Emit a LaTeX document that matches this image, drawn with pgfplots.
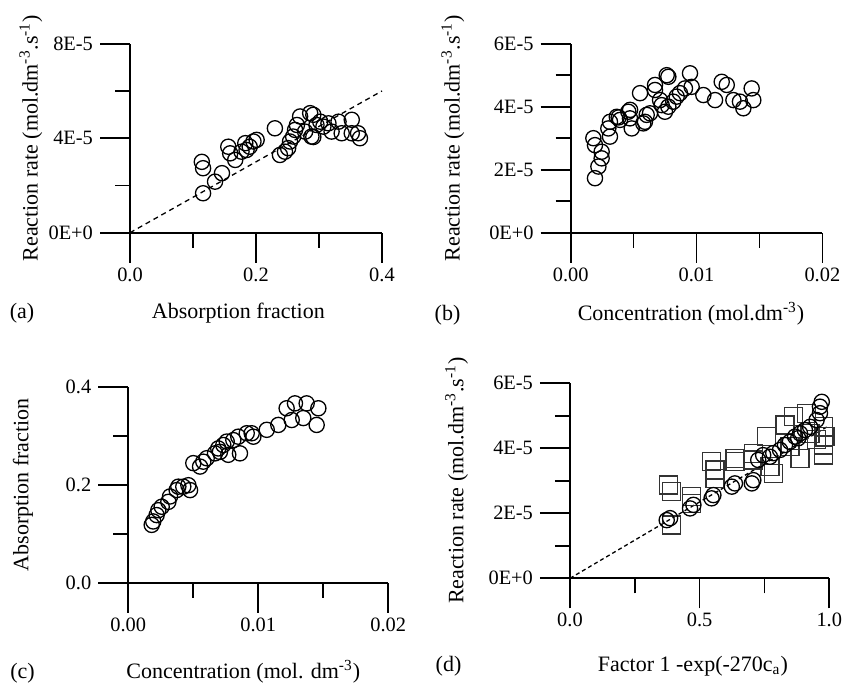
\documentclass[border=0pt]{standalone}
\usepackage{fontspec}
\setmainfont{Liberation Serif}
\usepackage{pgfplots}
\pgfplotsset{compat=1.18}

\pgfplotsset{
  panel/.style={
    scale only axis, axis lines=left, axis line style={-, line width=0.85pt},
    tick align=outside, major tick length=15pt, minor tick length=7.5pt,
    every tick/.style={black, line width=0.85pt},
    minor tick num=1, xmin=0, ymin=0, clip=false,
    scaled x ticks=false, scaled y ticks=false,
    xticklabel style={font=\fontsize{10.2}{12}\selectfont, yshift=1pt},
    yticklabel style={font=\fontsize{10.2}{12}\selectfont},
    every axis y label/.style={rotate=90, anchor=center, font=\fontsize{11}{13}\selectfont},
    every axis x label/.style={anchor=center, font=\fontsize{11}{13}\selectfont},
    anchor=south west,
  },
  circ/.style={only marks, mark=o, mark size=3.8pt, mark options={line width=0.65pt}, black},
  sq/.style={only marks, mark=square, mark size=4.5pt, mark options={line width=0.65pt}, black!80},
}

\begin{document}
\begin{tikzpicture}
\useasboundingbox (0,0) rectangle (421.5pt,-342.5pt);

% (a)
\begin{axis}[panel, at={(65pt,-116.35pt)}, width=126pt, height=94.5pt,
  xmax=0.4, ymax=8e-5,
  xtick={0,0.2,0.4}, xticklabels={0.0,0.2,0.4},
  ytick={0,4e-5,8e-5}, yticklabels={0E+0,4E-5,8E-5},
  xlabel={Absorption fraction}, xlabel style={at={(axis description cs:0.43,-0.425)}},
  ylabel={Reaction rate (mol.dm\textsuperscript{-3}.s\textsuperscript{-1})},
  ylabel style={at={(axis description cs:-0.393,0.5)}}]
\addplot[black, line width=0.65pt, dash pattern=on 2.5pt off 2pt] coordinates {(0,0) (0.4,6e-5)};
\addplot[circ] coordinates {
(0.116,1.67e-5) (0.114,3.00e-5) (0.116,2.73e-5) (0.135,2.16e-5) (0.146,2.52e-5)
(0.156,3.64e-5) (0.159,3.36e-5) (0.167,3.08e-5) (0.177,3.43e-5) (0.183,3.79e-5)
(0.185,3.50e-5) (0.190,3.64e-5) (0.196,3.86e-5) (0.201,3.93e-5) (0.230,4.42e-5)
(0.238,3.29e-5) (0.246,3.43e-5) (0.251,3.58e-5) (0.254,3.86e-5) (0.259,4.07e-5)
(0.262,4.35e-5) (0.265,4.56e-5) (0.270,4.92e-5) (0.278,4.28e-5) (0.286,5.06e-5)
(0.291,4.99e-5) (0.288,4.07e-5) (0.296,4.56e-5) (0.302,4.70e-5) (0.307,4.49e-5)
(0.315,4.63e-5) (0.320,4.28e-5) (0.331,4.70e-5) (0.336,4.21e-5) (0.352,4.78e-5)
(0.352,4.21e-5) (0.362,4.21e-5) (0.365,4.00e-5) (0.291,4.05e-5)
};
\end{axis}

% (b)
\begin{axis}[panel, at={(285.35pt,-116.35pt)}, width=125.85pt, height=94.5pt,
  xmax=0.02, ymax=6e-5,
  xtick={0,0.01,0.02}, xticklabels={0.00,0.01,0.02},
  ytick={0,2e-5,4e-5,6e-5}, yticklabels={0E+0,2E-5,4E-5,6E-5},
  xlabel={Concentration (mol.dm\textsuperscript{-3})}, xlabel style={at={(axis description cs:0.478,-0.43)}},
  ylabel={Reaction rate (mol.dm\textsuperscript{-3}.s\textsuperscript{-1})},
  ylabel style={at={(axis description cs:-0.468,0.5)}}]
\addplot[circ] coordinates {
(0.00193,1.73e-5) (0.00220,2.10e-5) (0.00180,3.00e-5) (0.00193,2.78e-5) (0.00246,2.57e-5)
(0.00246,2.36e-5) (0.00312,3.05e-5) (0.00299,3.31e-5) (0.00312,3.52e-5) (0.00366,3.68e-5)
(0.00392,3.58e-5) (0.00458,3.84e-5) (0.00471,3.63e-5) (0.00485,3.31e-5) (0.00577,3.47e-5)
(0.00590,3.52e-5) (0.00551,4.43e-5) (0.00630,3.79e-5) (0.00670,4.53e-5) (0.00670,4.69e-5)
(0.00710,4.21e-5) (0.00723,4.05e-5) (0.00763,5.00e-5) (0.00776,4.95e-5) (0.00749,3.84e-5)
(0.00776,4.00e-5) (0.00815,4.16e-5) (0.00842,4.32e-5) (0.00868,4.43e-5) (0.00908,4.58e-5)
(0.00948,5.06e-5) (0.00961,4.63e-5) (0.01054,4.37e-5) (0.01147,4.21e-5) (0.01200,4.79e-5)
(0.01240,4.69e-5) (0.01293,4.21e-5) (0.01345,4.16e-5) (0.01372,3.95e-5) (0.01438,4.58e-5)
(0.01451,4.21e-5) (0.00381,3.66e-5) (0.00472,3.90e-5) (0.00604,3.74e-5)
};
\end{axis}

% (c)
\begin{axis}[panel, at={(64.15pt,-291.35pt)}, width=130pt, height=98pt,
  xmax=0.02, ymax=0.4,
  xtick={0,0.01,0.02}, xticklabels={0.00,0.01,0.02},
  ytick={0,0.2,0.4}, yticklabels={0.0,0.2,0.4},
  xlabel={Concentration (mol. dm\textsuperscript{-3})}, xlabel style={at={(axis description cs:0.442,-0.456)}},
  ylabel={Absorption fraction},
  ylabel style={at={(axis description cs:-0.405,0.5)}}]
\addplot[circ] coordinates {
(0.00180,0.118) (0.00192,0.125) (0.00218,0.138) (0.00231,0.148) (0.00257,0.155)
(0.00308,0.165) (0.00321,0.176) (0.00372,0.189) (0.00385,0.196) (0.00423,0.196)
(0.00462,0.199) (0.00475,0.189) (0.00500,0.244) (0.00552,0.237) (0.00577,0.247)
(0.00603,0.254) (0.00667,0.264) (0.00692,0.274) (0.00705,0.267) (0.00731,0.281)
(0.00757,0.288) (0.00769,0.261) (0.00808,0.291) (0.00846,0.298) (0.00859,0.264)
(0.00911,0.305) (0.00949,0.305) (0.00962,0.298) (0.01065,0.312) (0.01154,0.322)
(0.01257,0.332) (0.01218,0.356) (0.01282,0.366) (0.01346,0.336) (0.01372,0.366)
(0.01462,0.356) (0.01449,0.322)
};
\end{axis}

% (d)
\begin{axis}[panel, at={(285pt,-289.15pt)}, width=129.65pt, height=97.5pt,
  xmax=1, ymax=6e-5,
  xtick={0,0.5,1}, xticklabels={0.0,0.5,1.0},
  ytick={0,2e-5,4e-5,6e-5}, yticklabels={0E+0,2E-5,4E-5,6E-5},
  xlabel={Factor 1 -exp(-270c\textsubscript{a})}, xlabel style={at={(axis description cs:0.474,-0.45)}},
  ylabel={Reaction rate (mol.dm\textsuperscript{-3}.s\textsuperscript{-1})},
  ylabel style={at={(axis description cs:-0.437,0.5)}}]
\addplot[black, line width=0.65pt, dash pattern=on 2pt off 1.5pt] coordinates {(0,0) (1,4.7e-5)};
\addplot[sq] coordinates {
(0.379,2.87e-5) (0.392,2.66e-5) (0.392,1.64e-5) (0.469,2.51e-5) (0.469,2.31e-5)
(0.546,3.59e-5) (0.559,3.33e-5) (0.559,3.08e-5) (0.636,3.69e-5) (0.636,3.59e-5)
(0.707,3.85e-5) (0.707,3.64e-5) (0.758,4.36e-5) (0.771,3.43e-5) (0.784,3.23e-5)
(0.829,4.72e-5) (0.861,4.97e-5) (0.848,4.05e-5) (0.887,3.69e-5) (0.913,5.08e-5)
(0.977,4.66e-5) (0.977,4.10e-5) (0.977,3.79e-5) (0.983,4.36e-5) (0.951,4.26e-5)
(0.926,4.46e-5)
};
\addplot[circ] coordinates {
(0.386,1.85e-5) (0.373,1.79e-5) (0.463,2.15e-5) (0.476,2.26e-5) (0.546,2.46e-5)
(0.553,2.56e-5) (0.624,2.82e-5) (0.636,2.92e-5) (0.701,2.92e-5) (0.707,3.02e-5)
(0.726,3.64e-5) (0.745,3.79e-5) (0.771,3.74e-5) (0.784,3.85e-5) (0.810,3.95e-5)
(0.829,4.10e-5) (0.848,4.20e-5) (0.868,4.36e-5) (0.880,4.31e-5) (0.887,4.46e-5)
(0.906,4.56e-5) (0.926,4.66e-5) (0.951,4.87e-5) (0.964,5.08e-5) (0.964,5.28e-5)
(0.971,5.43e-5)
};
\end{axis}

\node[font=\fontsize{11}{13}\selectfont] at (11pt,-156.5pt) {(a)};
\node[font=\fontsize{11}{13}\selectfont] at (223.75pt,-157.5pt) {(b)};
\node[font=\fontsize{11}{13}\selectfont] at (11.25pt,-336.5pt) {(c)};
\node[font=\fontsize{11}{13}\selectfont] at (224.25pt,-333pt) {(d)};
\end{tikzpicture}
\end{document}
